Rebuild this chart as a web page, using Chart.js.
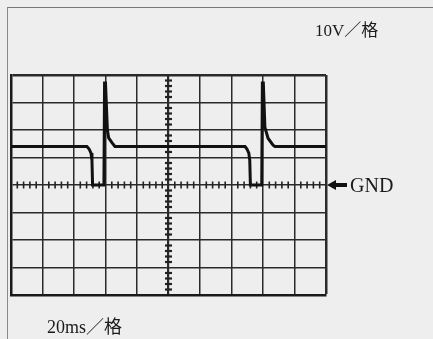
<!DOCTYPE html>
<html>
<head>
<meta charset="utf-8">
<script src="https://cdn.jsdelivr.net/npm/chart.js@4/dist/chart.umd.min.js"></script>
<style>
  body { margin: 0; background: #eeeeee; }
  #wrap { position: relative; width: 433px; height: 339px; overflow: hidden; }
  #frame { position: absolute; left: 7px; top: 7px; width: 440px; height: 340px;
           border-top: 1.5px solid #777; border-left: 1.5px solid #888; }
  canvas { position: absolute; left: 0; top: 0; }
  .lbl { position: absolute; white-space: nowrap; color: #1a1a1a; line-height: 1;
         font-family: "Liberation Serif", "DejaVu Serif", "Noto Sans CJK SC", serif; }
</style>
</head>
<body>
<div id="wrap">
  <div id="frame"></div>
  <canvas id="scope" width="433" height="339"></canvas>
  <div class="lbl" style="left:315px; top:22px; font-size:17px;">10V／格</div>
  <div class="lbl" style="left:350px; top:175px; font-size:20px;">GND</div>
  <div class="lbl" style="left:47px; top:318px; font-size:18px;">20ms／格</div>
</div>
<script>
// time axis in divisions (20ms/div), voltage in divisions (10V/div), GND = 0
const timeDiv = [0, 2.41, 2.48, 2.54, 2.57, 2.59, 2.95, 2.97, 3.0, 3.06, 3.1, 3.21, 3.3,
                 7.43, 7.49, 7.55, 7.58, 7.6, 7.96, 7.98, 8.01, 8.06, 8.16, 8.32, 8.38, 10];
const voltDiv = [1.4, 1.4, 1.31, 1.16, 0.9, 0, 0, 3.71, 3.71, 2.0, 1.71, 1.53, 1.4,
                 1.4, 1.31, 1.16, 0.9, 0, 0, 3.71, 3.71, 2.1, 1.7, 1.45, 1.4, 1.4];

const xDivs = [0, 10];   // horizontal range, 10 divisions
const yDivs = [-4, 4];   // vertical range, 8 divisions

// small graduation marks on the two centre lines + GND arrow
const scopeMarks = {
  id: 'scopeMarks',
  beforeDatasetsDraw(chart) {
    const { ctx, scales: { x, y } } = chart;
    const y0 = y.getPixelForValue(0);
    const xc = x.getPixelForValue(5);
    ctx.save();
    ctx.strokeStyle = '#222';
    ctx.lineWidth = 1.6;
    for (let i = 1; i < 50; i++) {
      if (i % 5 === 0) continue;
      const px = x.getPixelForValue(i * 0.2);
      ctx.beginPath();
      ctx.moveTo(px, y0 - 3.5);
      ctx.lineTo(px, y0 + 3.5);
      ctx.stroke();
    }
    ctx.lineWidth = 2.2;
    for (let i = 1; i < 40; i++) {
      if (i % 5 === 0) continue;
      const py = y.getPixelForValue(-4 + i * 0.2);
      ctx.beginPath();
      ctx.moveTo(xc - 3.5, py);
      ctx.lineTo(xc + 3.5, py);
      ctx.stroke();
    }
    ctx.restore();
  },
  afterDraw(chart) {
    const { ctx, chartArea, scales: { y } } = chart;
    const y0 = y.getPixelForValue(0);
    const x0 = chartArea.right + 1;
    ctx.save();
    ctx.fillStyle = '#111';
    ctx.beginPath();
    ctx.moveTo(x0, y0);
    ctx.lineTo(x0 + 9, y0 - 5);
    ctx.lineTo(x0 + 9, y0 + 5);
    ctx.closePath();
    ctx.fill();
    ctx.fillRect(x0 + 8, y0 - 2, 12, 4);
    ctx.restore();
  }
};

new Chart(document.getElementById('scope'), {
  type: 'line',
  data: {
    datasets: [{
      data: timeDiv.map((t, i) => ({ x: t, y: voltDiv[i] })),
      borderColor: '#111',
      borderWidth: 3,
      pointRadius: 0,
      tension: 0,
      fill: false
    }]
  },
  options: {
    responsive: false,
    animation: false,
    layout: { padding: { left: 11, top: 75, right: 107, bottom: 44 } },
    plugins: { legend: { display: false }, tooltip: { enabled: false } },
    scales: {
      x: {
        type: 'linear', min: xDivs[0], max: xDivs[1],
        ticks: { display: false, stepSize: 1 },
        grid: {
          drawTicks: false, color: '#2a2a2a',
          lineWidth: (c) => (c.tick && (c.tick.value === 10) ? 2.5 : (c.tick && c.tick.value === 5 ? 2.2 : 1.5))
        },
        border: { display: true, color: '#1a1a1a', width: 2.5 }
      },
      y: {
        type: 'linear', min: yDivs[0], max: yDivs[1],
        ticks: { display: false, stepSize: 1 },
        grid: {
          drawTicks: false, color: '#2a2a2a',
          lineWidth: (c) => (c.tick && (c.tick.value === 4) ? 2.5 : 1.6)
        },
        border: { display: true, color: '#1a1a1a', width: 2.5 }
      }
    }
  },
  plugins: [scopeMarks]
});
</script>
</body>
</html>
